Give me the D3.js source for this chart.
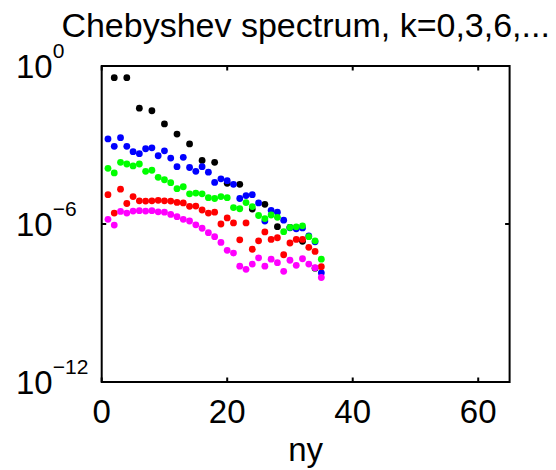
<!DOCTYPE html>
<html lang="en">
<head>
<meta charset="UTF-8">
<title>Chebyshev spectrum</title>
<script src="https://d3js.org/d3.v7.min.js"></script>
<style>
    body { margin: 0; background: #fff; }
    svg text { font-family: "Liberation Sans", Arial, sans-serif; fill: #000; }
</style>
</head>
<body>
<svg id="chart"></svg>
<script>
// spectrum coefficients, index = ny
const nyBlack = [2, 4, 6, 8, 10, 12, 14, 16, 18, 20, 22, 24, 26, 28, 30, 32, 34];
const k0 = [3.6e-1, 3.6e-1, 2.5e-2, 2.0e-2, 6.3e-3, 2.6e-3, 1.1e-3, 2.6e-4, 2.2e-4,
    3.5e-5, 3.2e-5, 3.7e-6, 5.6e-6, 7.9e-7, 7.4e-7, 2.2e-7, 2.1e-8];
const nyAll = d3.range(1, 36);
const k3 = [1.7e-3, 8.9e-4, 1.9e-3, 8.9e-4, 5.6e-4, 4.7e-4, 7.2e-4, 7.8e-4, 3.9e-4, 6.0e-4,
    3.2e-4, 1.5e-4, 3.4e-4, 1.4e-4, 1.0e-4, 1.5e-4, 9.3e-5, 3.8e-5, 5.2e-5, 4.4e-5,
    3.2e-5, 9.3e-6, 1.2e-5, 1.3e-5, 6.3e-6, 1.3e-6, 3.3e-6, 2.8e-6, 1.4e-6, 7.2e-7,
    6.6e-7, 7.1e-7, 3.5e-7, 2.1e-7, 1.4e-8];
const k6 = [1.3e-4, 8.7e-5, 2.2e-4, 1.9e-4, 1.6e-4, 1.9e-4, 1.0e-4, 1.1e-4, 5.9e-5, 4.8e-5,
    3.7e-5, 2.2e-5, 2.6e-5, 1.4e-5, 1.5e-5, 1.4e-5, 1.0e-5, 9.3e-6, 1.1e-5, 1.0e-5,
    4.2e-6, 3.8e-6, 6.5e-6, 4.6e-6, 2.1e-6, 1.6e-6, 2.2e-6, 1.8e-6, 5.1e-7, 7.4e-7,
    7.8e-7, 8.5e-7, 3.3e-7, 2.3e-7, 4.6e-8];
const k9 = [1.3e-5, 2.6e-6, 2.1e-5, 6.0e-6, 1.1e-5, 7.6e-6, 7.4e-6, 7.6e-6, 7.9e-6, 7.6e-6,
    7.4e-6, 6.6e-6, 6.3e-6, 4.7e-6, 4.8e-6, 3.4e-6, 2.6e-6, 2.8e-6, 1.0e-6, 1.7e-6,
    1.1e-6, 2.5e-7, 1.1e-6, 1.1e-7, 2.3e-7, 5.0e-7, 2.6e-7, 3.0e-7, 6.8e-8, 1.9e-7,
    2.6e-7, 2.6e-7, 1.3e-7, 9.1e-8, 2.4e-8];
const k12 = [1.5e-6, 9.1e-7, 3.0e-6, 2.6e-6, 3.1e-6, 3.2e-6, 3.1e-6, 3.2e-6, 2.9e-6, 2.8e-6,
    2.3e-6, 1.9e-6, 1.5e-6, 1.3e-6, 9.3e-7, 6.9e-7, 4.7e-7, 3.3e-7, 2.0e-7, 1.0e-7,
    7.9e-8, 2.5e-8, 1.9e-8, 3.0e-8, 5.2e-8, 2.5e-8, 4.6e-8, 3.4e-8, 1.6e-8, 4.2e-8,
    2.7e-8, 4.8e-8, 3.0e-8, 2.2e-8, 9.3e-9];

const xTicks = [0, 20, 40, 60];
const yTicks = [1e0, 1e-6, 1e-12];
const yTickExp = ["0", "\u22126", "\u221212"];

const series = [
    { ny: nyBlack, v: k0, color: "#000000" },
    { ny: nyAll, v: k3, color: "#0000ff" },
    { ny: nyAll, v: k6, color: "#00ff00" },
    { ny: nyAll, v: k9, color: "#ff0000" },
    { ny: nyAll, v: k12, color: "#ff00ff" }
];

const width = 556, height = 470;
const mLeft = 101.7, mRight = 509.6, mTop = 66, mBottom = 382;

const svg = d3.select("#chart").attr("width", width).attr("height", height);

const x = d3.scaleLinear().domain([0, 65]).range([mLeft, mRight]);
const y = d3.scaleLog().domain([1e-12, 1]).range([mBottom, mTop]);

// dots
series.forEach(s => {
    svg.append("g").selectAll("circle")
        .data(s.v.map((v, i) => [s.ny[i], v]))
        .join("circle")
        .attr("cx", d => x(d[0]))
        .attr("cy", d => y(d[1]))
        .attr("r", 3.4)
        .attr("fill", s.color);
});

// box + inward ticks
const tl = 4.5;
const axes = svg.append("g").attr("stroke", "#000").attr("stroke-width", 2).attr("fill", "none");
xTicks.forEach(t => {
    axes.append("line").attr("x1", x(t)).attr("x2", x(t)).attr("y1", mBottom).attr("y2", mBottom - tl);
    axes.append("line").attr("x1", x(t)).attr("x2", x(t)).attr("y1", mTop).attr("y2", mTop + tl);
});
yTicks.forEach(t => {
    axes.append("line").attr("x1", mLeft).attr("x2", mLeft + tl).attr("y1", y(t)).attr("y2", y(t));
    axes.append("line").attr("x1", mRight).attr("x2", mRight - tl).attr("y1", y(t)).attr("y2", y(t));
});
axes.append("rect").attr("x", mLeft).attr("y", mTop).attr("width", mRight - mLeft).attr("height", mBottom - mTop);

// x tick labels
svg.append("g").selectAll("text")
    .data(xTicks)
    .join("text")
    .attr("x", d => x(d))
    .attr("y", 423)
    .attr("text-anchor", "middle")
    .attr("font-size", 33)
    .text(d => d);

// y tick labels 10^n
const yl = svg.append("g").selectAll("text")
    .data(yTicks)
    .join("text")
    .attr("x", 16)
    .attr("y", d => y(d) + 12)
    .attr("font-size", 33);
yl.append("tspan").text("10");
yl.append("tspan")
    .attr("font-size", 21)
    .attr("dy", -20)
    .text((d, i) => yTickExp[i]);

svg.append("text")
    .attr("x", (mLeft + mRight) / 2)
    .attr("y", 37)
    .attr("text-anchor", "middle")
    .attr("font-size", 34)
    .text("Chebyshev spectrum, k=0,3,6,...");

svg.append("text")
    .attr("x", (mLeft + mRight) / 2)
    .attr("y", 461)
    .attr("text-anchor", "middle")
    .attr("font-size", 33)
    .text("ny");
</script>
</body>
</html>
